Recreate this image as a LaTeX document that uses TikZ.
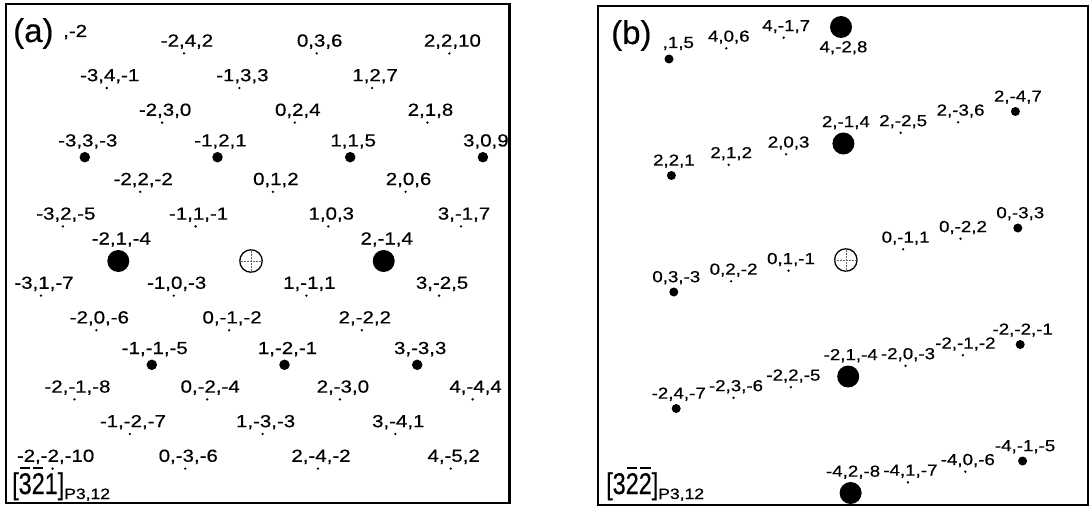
\documentclass[tikz,border=0pt]{standalone}
\usepackage{fontspec}
\usepackage{tikz}
\usetikzlibrary{positioning}
\newfontfamily\latfont[FakeStretch=1.17,FakeBold=0.5]{Liberation Sans}
\newfontfamily\tagfont[FakeBold=0.4]{Liberation Sans}
\newfontfamily\dirfont[FakeStretch=0.78,FakeBold=0.4]{Liberation Sans}
\newsavebox\dirbox
\newcommand\dirbar[1]{\sbox\dirbox{#1}\vbox{\offinterlineskip\hbox to\wd\dirbox{\hss\vrule width\dimexpr\wd\dirbox-2.5pt\relax height1.5pt depth0pt\hss}\kern4.5pt\copy\dirbox}}
\newcommand\dirsub[1]{\raisebox{-5pt}{\latfont\fontsize{15}{17}\selectfont#1}}
\tikzset{
  panel/.style={draw,line width=2.2pt},
  tdot/.style={circle,fill,inner sep=0pt,minimum size=2.6pt},
  mdot/.style={circle,fill,inner sep=0pt,minimum size=10.5pt},
  mdotsm/.style={circle,fill,inner sep=0pt,minimum size=9pt},
  bdot/.style={circle,fill,inner sep=0pt,minimum size=22pt},
  orig/.style={circle,draw,line width=1.3pt,inner sep=0pt,minimum size=22.5pt},
  cross/.style={densely dotted,line width=0.5pt,black!60},
  idxa/.style={font=\latfont\fontsize{17.5}{19}\selectfont,inner sep=0pt,
               text height=12.5pt,text depth=2.6pt,xshift=3pt},
  idxb/.style={font=\latfont\fontsize{16}{18}\selectfont,inner sep=0pt,
               text height=11.4pt,text depth=2.4pt,xshift=2.5pt},
  tag/.style={font=\tagfont\fontsize{33}{36}\selectfont,inner sep=0pt,anchor=base west},
  zone/.style={font=\dirfont\fontsize{30}{32}\selectfont,inner sep=0pt,anchor=base west}
}
\begin{document}
\begin{tikzpicture}[x=1pt,y=-1pt,node distance=2.5pt]
  \useasboundingbox[fill=white] (0,0) rectangle (1089,508);
  % ---- panel (a) ----
  \draw[panel] (6,4) rectangle (509.5,503);
  \node[tag] (taga) at (13,42) {(a)};
  \node[idxa,anchor=base west,xshift=0pt] (resta) at (60,37) {,-2};
  \node[tdot] (a1) at (184.0,53.4) {}; \node[idxa,above=of a1] (la1) {-2,4,2};
  \node[tdot] (a2) at (316.7,53.4) {}; \node[idxa,above=of a2] (la2) {0,3,6};
  \node[tdot] (a3) at (449.4,53.4) {}; \node[idxa,above=of a3] (la3) {2,2,10};
  \node[tdot] (a4) at (106.7,88.0) {}; \node[idxa,above=of a4] (la4) {-3,4,-1};
  \node[tdot] (a5) at (239.4,88.0) {}; \node[idxa,above=of a5] (la5) {-1,3,3};
  \node[tdot] (a6) at (372.1,88.0) {}; \node[idxa,above=of a6] (la6) {1,2,7};
  \node[tdot] (a7) at (162.1,122.6) {}; \node[idxa,above=of a7] (la7) {-2,3,0};
  \node[tdot] (a8) at (294.8,122.6) {}; \node[idxa,above=of a8] (la8) {0,2,4};
  \node[tdot] (a9) at (427.5,122.6) {}; \node[idxa,above=of a9] (la9) {2,1,8};
  \node[mdot] (a10) at (84.8,157.2) {}; \node[idxa,above=of a10] (la10) {-3,3,-3};
  \node[mdot] (a11) at (217.5,157.2) {}; \node[idxa,above=of a11] (la11) {-1,2,1};
  \node[mdot] (a12) at (350.2,157.2) {}; \node[idxa,above=of a12] (la12) {1,1,5};
  \node[mdot] (a13) at (482.9,157.2) {}; \node[idxa,above=of a13] (la13) {3,0,9};
  \node[tdot] (a14) at (140.2,191.8) {}; \node[idxa,above=of a14] (la14) {-2,2,-2};
  \node[tdot] (a15) at (272.9,191.8) {}; \node[idxa,above=of a15] (la15) {0,1,2};
  \node[tdot] (a16) at (405.6,191.8) {}; \node[idxa,above=of a16] (la16) {2,0,6};
  \node[tdot] (a17) at (62.9,226.4) {}; \node[idxa,above=of a17] (la17) {-3,2,-5};
  \node[tdot] (a18) at (195.6,226.4) {}; \node[idxa,above=of a18] (la18) {-1,1,-1};
  \node[tdot] (a19) at (328.3,226.4) {}; \node[idxa,above=of a19] (la19) {1,0,3};
  \node[tdot] (a20) at (461.0,226.4) {}; \node[idxa,above=of a20] (la20) {3,-1,7};
  \node[bdot] (a21) at (118.3,261) {}; \node[idxa,above=of a21] (la21) {-2,1,-4};
  \node[orig] (oa) at (251,261) {};
  \draw[cross] (oa.west) -- (oa.east) (oa.north) -- (oa.south);
  \node[bdot] (a22) at (383.7,261) {}; \node[idxa,above=of a22] (la22) {2,-1,4};
  \node[tdot] (a23) at (41.0,295.6) {}; \node[idxa,above=of a23] (la23) {-3,1,-7};
  \node[tdot] (a24) at (173.7,295.6) {}; \node[idxa,above=of a24] (la24) {-1,0,-3};
  \node[tdot] (a25) at (306.4,295.6) {}; \node[idxa,above=of a25] (la25) {1,-1,1};
  \node[tdot] (a26) at (439.1,295.6) {}; \node[idxa,above=of a26] (la26) {3,-2,5};
  \node[tdot] (a27) at (96.4,330.2) {}; \node[idxa,above=of a27] (la27) {-2,0,-6};
  \node[tdot] (a28) at (229.1,330.2) {}; \node[idxa,above=of a28] (la28) {0,-1,-2};
  \node[tdot] (a29) at (361.8,330.2) {}; \node[idxa,above=of a29] (la29) {2,-2,2};
  \node[mdot] (a30) at (151.8,364.8) {}; \node[idxa,above=of a30] (la30) {-1,-1,-5};
  \node[mdot] (a31) at (284.5,364.8) {}; \node[idxa,above=of a31] (la31) {1,-2,-1};
  \node[mdot] (a32) at (417.2,364.8) {}; \node[idxa,above=of a32] (la32) {3,-3,3};
  \node[tdot] (a33) at (74.5,399.4) {}; \node[idxa,above=of a33] (la33) {-2,-1,-8};
  \node[tdot] (a34) at (207.2,399.4) {}; \node[idxa,above=of a34] (la34) {0,-2,-4};
  \node[tdot] (a35) at (339.9,399.4) {}; \node[idxa,above=of a35] (la35) {2,-3,0};
  \node[tdot] (a36) at (472.6,399.4) {}; \node[idxa,above=of a36] (la36) {4,-4,4};
  \node[tdot] (a37) at (129.9,434.0) {}; \node[idxa,above=of a37] (la37) {-1,-2,-7};
  \node[tdot] (a38) at (262.6,434.0) {}; \node[idxa,above=of a38] (la38) {1,-3,-3};
  \node[tdot] (a39) at (395.3,434.0) {}; \node[idxa,above=of a39] (la39) {3,-4,1};
  \node[tdot] (a40) at (52.6,468.6) {}; \node[idxa,above=of a40] (la40) {-2,-2,-10};
  \node[tdot] (a41) at (185.3,468.6) {}; \node[idxa,above=of a41] (la41) {0,-3,-6};
  \node[tdot] (a42) at (318.0,468.6) {}; \node[idxa,above=of a42] (la42) {2,-4,-2};
  \node[tdot] (a43) at (450.7,468.6) {}; \node[idxa,above=of a43] (la43) {4,-5,2};
  \node[zone] (dira) at (12,494) {[\dirbar{3}\dirbar{2}1]\dirsub{P3,12}};
  % ---- panel (b) ----
  \draw[panel] (597.7,6) rectangle (1088,505);
  \node[tag] (tagb) at (611,44) {(b)};
  \node[mdotsm] (b1) at (669.0,59.0) {}; \node[idxb,anchor=base west,xshift=0pt] (restb) at (660,48) {,1,5};
  \node[tdot] (b2) at (726.3,48.3) {}; \node[idxb,above=of b2] (lb2) {4,0,6};
  \node[tdot] (b3) at (783.7,37.7) {}; \node[idxb,above=of b3] (lb3) {4,-1,7};
  \node[bdot] (b4) at (841.0,27.0) {}; \node[idxb,below=of b4] (lb4) {4,-2,8};
  \node[mdotsm] (b5) at (671.4,175.5) {}; \node[idxb,above=of b5] (lb5) {2,2,1};
  \node[tdot] (b6) at (728.7,164.8) {}; \node[idxb,above=of b6] (lb6) {2,1,2};
  \node[tdot] (b7) at (786.1,154.2) {}; \node[idxb,above=of b7] (lb7) {2,0,3};
  \node[bdot] (b8) at (843.4,143.5) {}; \node[idxb,above=of b8] (lb8) {2,-1,4};
  \node[tdot] (b9) at (900.7,132.8) {}; \node[idxb,above=of b9] (lb9) {2,-2,5};
  \node[tdot] (b10) at (958.1,122.2) {}; \node[idxb,above=of b10] (lb10) {2,-3,6};
  \node[mdotsm] (b11) at (1015.4,111.5) {}; \node[idxb,above=of b11] (lb11) {2,-4,7};
  \node[mdotsm] (b12) at (673.8,292.0) {}; \node[idxb,above=of b12] (lb12) {0,3,-3};
  \node[tdot] (b13) at (731.1,281.3) {}; \node[idxb,above=of b13] (lb13) {0,2,-2};
  \node[tdot] (b14) at (788.5,270.7) {}; \node[idxb,above=of b14] (lb14) {0,1,-1};
  \node[orig] (ob) at (845.8,260) {};
  \draw[cross] (ob.west) -- (ob.east) (ob.north) -- (ob.south);
  \node[tdot] (b15) at (903.1,249.3) {}; \node[idxb,above=of b15] (lb15) {0,-1,1};
  \node[tdot] (b16) at (960.5,238.7) {}; \node[idxb,above=of b16] (lb16) {0,-2,2};
  \node[mdotsm] (b17) at (1017.8,228.0) {}; \node[idxb,above=of b17] (lb17) {0,-3,3};
  \node[mdotsm] (b18) at (676.2,408.5) {}; \node[idxb,above=of b18] (lb18) {-2,4,-7};
  \node[tdot] (b19) at (733.5,397.8) {}; \node[idxb,above=of b19] (lb19) {-2,3,-6};
  \node[tdot] (b20) at (790.9,387.2) {}; \node[idxb,above=of b20] (lb20) {-2,2,-5};
  \node[bdot] (b21) at (848.2,376.5) {}; \node[idxb,above=of b21] (lb21) {-2,1,-4};
  \node[tdot] (b22) at (905.5,365.8) {}; \node[idxb,above=of b22] (lb22) {-2,0,-3};
  \node[tdot] (b23) at (962.9,355.2) {}; \node[idxb,above=of b23] (lb23) {-2,-1,-2};
  \node[mdotsm] (b24) at (1020.2,344.5) {}; \node[idxb,above=of b24] (lb24) {-2,-2,-1};
  \node[bdot] (b25) at (850.6,493.0) {}; \node[idxb,above=of b25] (lb25) {-4,2,-8};
  \node[tdot] (b26) at (907.9,482.3) {}; \node[idxb,above=of b26] (lb26) {-4,1,-7};
  \node[tdot] (b27) at (965.3,471.7) {}; \node[idxb,above=of b27] (lb27) {-4,0,-6};
  \node[mdotsm] (b28) at (1022.6,461.0) {}; \node[idxb,above=of b28] (lb28) {-4,-1,-5};
  \node[zone] (dirb) at (606,494) {[3\dirbar{2}\dirbar{2}]\dirsub{P3,12}};
\end{tikzpicture}
\end{document}
